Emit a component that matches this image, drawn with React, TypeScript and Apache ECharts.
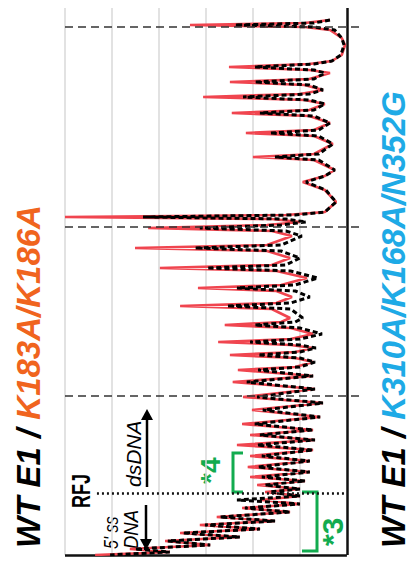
import React, { useEffect, useRef } from 'react';
import * as echarts from 'echarts';

// Position along the template (0 = bottom axis) and cleavage intensity per position.
const positions = [
  535, 532, 530, 528, 525, 517, 510, 500, 494, 491, 488, 485, 482, 476, 473, 470, 465, 461, 458, 455,
  451, 445, 442, 439, 432, 425, 422, 419, 411, 401, 398, 395, 385, 379, 373, 365, 353, 343, 340, 338,
  336, 333, 330, 327, 324, 319, 310, 307, 304, 297, 290, 287, 284, 277, 270, 267, 264, 258, 252, 249,
  246, 237, 233, 230, 227, 221, 216, 213, 210, 207, 203, 200, 197, 193, 188, 185,
  179, 173, 166, 158, 152, 145, 138, 131, 125, 120, 115, 110, 105, 99, 94, 88, 83, 78, 74, 70,
  66, 63, 59, 55, 51, 47, 43, 38, 34, 30, 26, 22, 18, 14, 10, 6, 3, 0,
];

// WT E1 / K183A/K186A (red trace)
const ratioK183 = [
  0.36, 0.9, 3.34, 0.9, 0.36, 0.11, 0.04, 0.11, 0.32, 0.8, 2.51, 0.8, 0.36, 0.8, 2.49, 0.9, 0.51, 1.0, 3.06, 0.9,
  0.47, 0.8, 2.45, 0.8, 0.36, 0.7, 2.15, 0.7, 0.3, 0.7, 2.0, 0.7, 0.26, 0.47, 0.94, 0.47, 0.23, 0.47, 1.3, 6.0,
  1.6, 1.0, 1.7, 4.23, 1.6, 1.17, 1.7, 4.51, 1.7, 1.21, 1.6, 3.98, 1.5, 0.85, 1.4, 3.17, 1.5, 1.17, 1.5, 3.55,
  1.6, 1.21, 1.4, 2.6, 1.2, 0.72, 1.2, 2.74, 1.2, 0.72, 1.1, 2.49, 1.1, 0.72, 1.1, 2.32,
  0.72, 2.43, 0.68, 2.21, 0.51, 2.02, 0.57, 2.23, 0.72, 2.06, 0.68, 2.34, 0.72, 2.06, 0.79, 2.11, 0.79, 2.06, 0.89, 1.91,
  1.0, 1.74, 1.0, 1.81, 1.0, 2.23, 1.21, 2.77, 1.53, 3.13, 1.85, 3.55, 2.28, 3.87, 2.91, 4.62, 3.77, 5.36,
];

// WT E1 / K310A/K168A/N352G (black dashed trace)
const ratioK310 = [
  0.36, 0.7, 2.38, 0.7, 0.26, 0.11, 0.06, 0.13, 0.32, 0.7, 1.96, 0.7, 0.47, 0.7, 1.96, 0.8, 0.51, 0.8, 2.21, 0.8,
  0.47, 0.7, 1.85, 0.7, 0.36, 0.6, 1.64, 0.6, 0.3, 0.6, 1.53, 0.6, 0.26, 0.47, 0.87, 0.45, 0.23, 0.47, 1.1, 4.34,
  1.3, 0.87, 1.4, 3.13, 1.3, 0.96, 1.4, 3.23, 1.4, 1.0, 1.3, 2.98, 1.2, 0.62, 1.1, 2.34, 1.1, 0.79, 1.2, 2.55,
  1.2, 0.94, 1.1, 1.96, 1.0, 0.53, 1.0, 2.06, 1.0, 0.66, 1.0, 1.89, 1.0, 0.68, 1.0, 1.89,
  0.72, 2.13, 0.68, 1.91, 0.51, 1.79, 0.57, 1.96, 0.72, 1.85, 0.68, 1.91, 0.72, 1.81, 0.79, 1.89, 0.79, 1.81, 0.89, 1.74,
  1.0, 1.64, 1.0, 2.34, 1.0, 2.17, 1.21, 2.7, 1.53, 3.02, 1.85, 3.49, 2.28, 3.81, 2.91, 4.51, 3.77, 5.04,
];

const intensityGrid = [1, 2, 3, 4, 5, 6];
const segmentBoundaries = [528, 328, 159];
const rfjPosition = 62;
const rfjLineStart = 5.32;

const INTENSITY_MIN = -0.3;
const INTENSITY_MAX = 6;
const POSITION_MAX = 547;

const RED = '#f0454f';
const ORANGE = '#f0641e';
const BLUE = '#1eaae6';
const GREEN = '#12ab4f';
const FONT = '"Liberation Sans", Arial, sans-serif';

export default function App() {
  const ref = useRef<HTMLDivElement>(null);

  useEffect(() => {
    if (!ref.current) return;
    const chart = echarts.init(ref.current, null, { renderer: 'svg' });

    const redData = positions.map((p, i) => [ratioK183[i], p]);
    const blackData = positions.map((p, i) => [ratioK310[i], p]);

    const gridLines = intensityGrid.map((v) => ({
      xAxis: v,
      lineStyle: { color: '#d9d9d9', width: 1.5, type: 'solid' },
    }));

    const boundaryLines = segmentBoundaries.map((p) => [
      { coord: [INTENSITY_MAX, p] },
      { coord: [INTENSITY_MIN, p] },
    ]);

    const rotText = (
      x: number,
      y: number,
      text: string,
      style: Record<string, unknown>,
      scaleX = 1,
    ) => ({
      type: 'text',
      x,
      y,
      rotation: Math.PI / 2,
      scaleX,
      silent: true,
      style: {
        text,
        align: 'left',
        verticalAlign: 'middle',
        textAlign: 'left',
        textVerticalAlign: 'middle',
        ...style,
      },
    });

    const titleToken = (fill: string) => ({
      fill,
      fontSize: 33,
      lineHeight: 28,
      fontWeight: 'bold',
      fontStyle: 'italic',
      fontFamily: FONT,
    });

    const option = {
      animation: false,
      grid: { left: 65, right: 50, top: 8, bottom: 17 },
      xAxis: {
        type: 'value',
        inverse: true,
        min: INTENSITY_MIN,
        max: INTENSITY_MAX,
        show: false,
      },
      yAxis: {
        type: 'value',
        min: 0,
        max: POSITION_MAX,
        show: false,
      },
      series: [
        {
          name: 'WT E1 / K183A/K186A',
          type: 'line',
          data: redData,
          showSymbol: false,
          symbol: 'none',
          z: 3,
          lineStyle: { color: RED, width: 2.6 },
          markLine: {
            silent: true,
            symbol: ['none', 'none'],
            label: { show: false },
            z: 1,
            data: [
              ...gridLines,
              { xAxis: 0, lineStyle: { color: '#111', width: 2.5, type: 'solid' } },
              [
                { coord: [INTENSITY_MAX, 0], lineStyle: { color: '#111', width: 2.5, type: 'solid' } },
                { coord: [0, 0] },
              ],
            ],
          },
        },
        {
          name: 'WT E1 / K310A/K168A/N352G',
          type: 'line',
          data: blackData,
          showSymbol: false,
          symbol: 'none',
          z: 4,
          lineStyle: { color: '#000', width: 3, type: [5, 3] },
          markLine: {
            silent: true,
            symbol: ['none', 'none'],
            label: { show: false },
            lineStyle: { color: '#333', width: 1.5, type: [8, 5] },
            data: [
              ...boundaryLines,
              [
                { coord: [rfjLineStart, rfjPosition], lineStyle: { color: '#111', width: 2.5, type: [2, 3] } },
                { coord: [0, rfjPosition] },
              ],
            ],
          },
        },
      ],
      graphic: [
        rotText(
          28,
          548,
          '{k|WT E1 / }{m|K183A/K186A}',
          { rich: { k: titleToken('#000'), m: titleToken(ORANGE) } },
          1.0,
        ),
        rotText(
          393,
          548,
          '{k|WT E1 / }{m|K310A/K168A/N352G}',
          { rich: { k: titleToken('#000'), m: titleToken(BLUE) } },
          1.0,
        ),
        rotText(81, 508, 'RFJ', { fill: '#000', font: `bold 25px ${FONT}` }, 0.72),
        rotText(111, 549, "5' ss", { fill: '#000', font: `italic 20px ${FONT}` }, 0.8),
        rotText(131, 549, 'DNA', { fill: '#000', font: `italic 21px ${FONT}` }, 0.88),
        rotText(133, 487, 'dsDNA', { fill: '#000', font: `italic 21px ${FONT}` }, 1),
        // 5' ssDNA arrow (pointing toward the 5' end)
        { type: 'line', silent: true, shape: { x1: 146, y1: 505, x2: 146, y2: 541 }, style: { stroke: '#000', lineWidth: 2.5 } },
        { type: 'polygon', silent: true, shape: { points: [[140, 539], [152, 539], [146, 550]] }, style: { fill: '#000' } },
        // dsDNA arrow
        { type: 'line', silent: true, shape: { x1: 147, y1: 487, x2: 147, y2: 418 }, style: { stroke: '#000', lineWidth: 2.5 } },
        { type: 'polygon', silent: true, shape: { points: [[141, 420], [153, 420], [147, 409]] }, style: { fill: '#000' } },
        // *4 bracket
        rotText(210, 484, '*4', { fill: GREEN, font: `bold 28px ${FONT}` }, 1),
        {
          type: 'polyline',
          silent: true,
          shape: { points: [[243, 453], [233, 453], [233, 492], [243, 492]] },
          style: { stroke: GREEN, lineWidth: 3, fill: null },
        },
        // *3 bracket
        rotText(332, 546, '*3', { fill: GREEN, font: `bold 30px ${FONT}` }, 1),
        {
          type: 'polyline',
          silent: true,
          shape: { points: [[302, 492], [317, 492], [317, 551], [302, 551]] },
          style: { stroke: GREEN, lineWidth: 3, fill: null },
        },
      ],
    };

    chart.setOption(option as any);
    return () => chart.dispose();
  }, []);

  return (
    <div
      ref={ref}
      style={{ position: 'fixed', left: 0, top: 0, width: 411, height: 572, background: '#fff' }}
    />
  );
}
